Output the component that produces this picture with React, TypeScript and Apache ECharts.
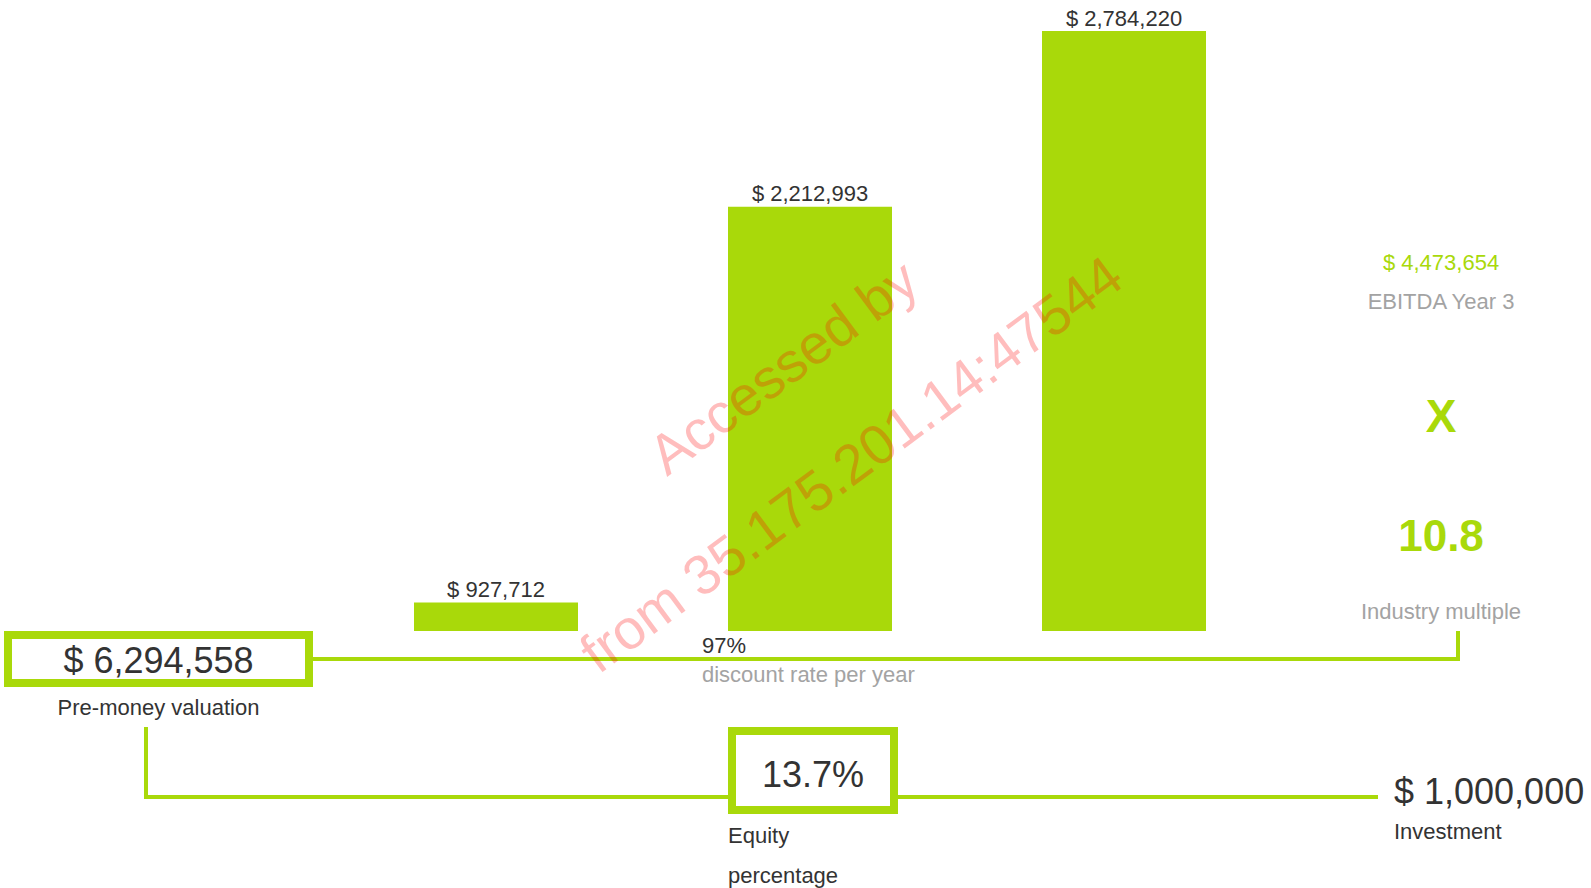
import React, { useEffect, useRef } from "react";
import * as echarts from "echarts";

const categories = ["Year 1", "Year 2", "Year 3"];
const ebitdaValues = [927712, 2212993, 2784220];
const preMoneyValuation = "$ 6,294,558";
const discountRate = "97%";
const equityPercentage = "13.7%";
const investment = "$ 1,000,000";
const ebitdaYear3 = "$ 4,473,654";
const industryMultiple = "10.8";
const watermarkLines = ["Accessed by", "from 35.175.201.14:47544"];

const GREEN = "#a9d90a";
const DARK = "#333333";
const GREY = "#a3a3a3";
const FONT = "'Liberation Sans', Arial, sans-serif";

const fmt = (v: number) => "$ " + v.toLocaleString("en-US");

const txt = (
  text: string,
  x: number,
  y: number,
  size: number,
  color: string,
  align: string = "center",
  weight: string = "normal"
) => ({
  type: "text",
  x,
  y,
  silent: true,
  style: {
    text,
    fill: color,
    font: `${weight} ${size}px ${FONT}`,
    textAlign: align,
    textVerticalAlign: "middle",
  },
});

export default function App() {
  const ref = useRef<HTMLDivElement>(null);
  useEffect(() => {
    if (!ref.current) return;
    const chart = echarts.init(ref.current, null, { renderer: "svg" });
    const lineStyle = { stroke: GREEN, lineWidth: 4, fill: null };
    const rot = (36.5 * Math.PI) / 180;
    const wm = (text: string, x: number, y: number) => ({
      type: "text",
      x,
      y,
      rotation: rot,
      silent: true,
      z: 100,
      style: {
        text,
        fill: "rgba(255,0,0,0.26)",
        font: `normal 56px ${FONT}`,
        textAlign: "center",
        textVerticalAlign: "middle",
      },
    });
    chart.setOption({
      animation: false,
      grid: { left: 339, width: 942, top: 31, height: 600 },
      xAxis: {
        type: "category",
        data: categories,
        show: false,
      },
      yAxis: {
        type: "value",
        min: 835000,
        max: 2784220,
        show: false,
      },
      series: [
        {
          type: "bar",
          data: ebitdaValues,
          barWidth: 164,
          itemStyle: { color: GREEN },
          label: {
            show: true,
            position: "top",
            distance: 2,
            color: DARK,
            fontSize: 22,
            fontFamily: FONT,
            formatter: (p: any) => fmt(p.value),
          },
        },
      ],
      graphic: [
        // connecting lines
        {
          type: "polyline",
          silent: true,
          shape: { points: [[313, 659], [1458, 659], [1458, 631]] },
          style: lineStyle,
        },
        {
          type: "polyline",
          silent: true,
          shape: { points: [[146, 727], [146, 797], [728, 797]] },
          style: lineStyle,
        },
        {
          type: "line",
          silent: true,
          shape: { x1: 898, y1: 797, x2: 1378, y2: 797 },
          style: lineStyle,
        },
        // boxes
        {
          type: "rect",
          silent: true,
          shape: { x: 8, y: 635, width: 301, height: 48 },
          style: { fill: "#fff", stroke: GREEN, lineWidth: 8 },
        },
        {
          type: "rect",
          silent: true,
          shape: { x: 732, y: 731, width: 162, height: 79 },
          style: { fill: "#fff", stroke: GREEN, lineWidth: 8 },
        },
        txt(preMoneyValuation, 158.5, 660, 36, DARK),
        txt("Pre-money valuation", 158.5, 707, 22, DARK),
        txt(discountRate, 702, 645, 22, DARK, "left"),
        txt("discount rate per year", 702, 674, 22, GREY, "left"),
        txt(equityPercentage, 813, 774, 36, DARK),
        txt("Equity", 728, 835, 22, DARK, "left"),
        txt("percentage", 728, 875, 22, DARK, "left"),
        txt(investment, 1394, 791, 36, DARK, "left"),
        txt("Investment", 1394, 831, 22, DARK, "left"),
        txt(ebitdaYear3, 1441, 262, 22, GREEN),
        txt("EBITDA Year 3", 1441, 301, 22, GREY),
        txt("X", 1441, 416, 46, GREEN, "center", "bold"),
        txt(industryMultiple, 1441, 535, 44, GREEN, "center", "bold"),
        txt("Industry multiple", 1441, 611, 22, GREY),
        // watermark
        wm(watermarkLines[0], 783, 367),
        wm(watermarkLines[1], 851, 464),
      ],
    });
    return () => chart.dispose();
  }, []);
  return (
    <div
      ref={ref}
      style={{ position: "fixed", left: 0, top: 0, width: 1591, height: 888, background: "#fff" }}
    />
  );
}
